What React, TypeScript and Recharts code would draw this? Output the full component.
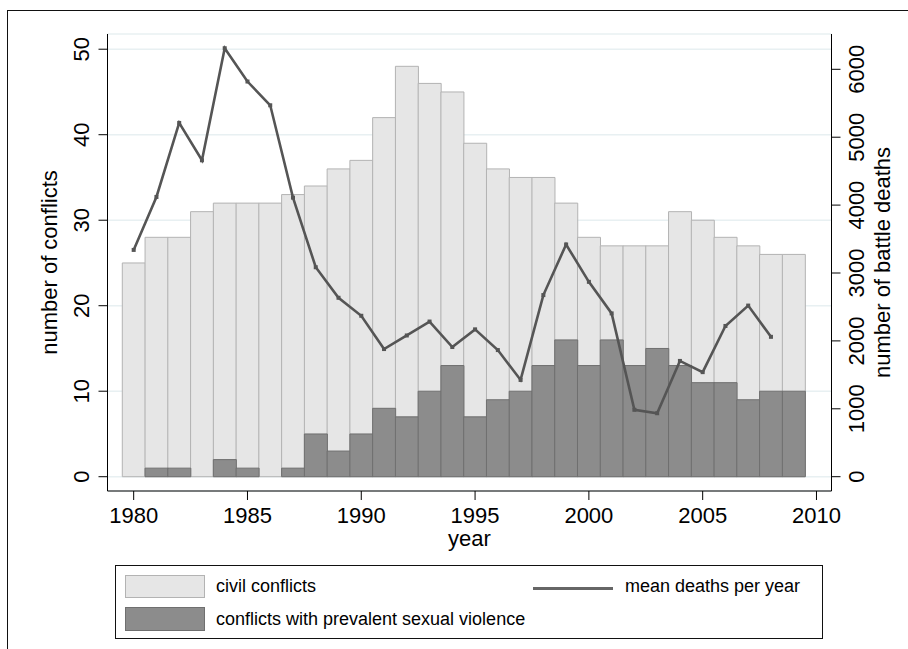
import React from "react";
import {
  ComposedChart,
  Bar,
  Line,
  XAxis,
  YAxis,
  CartesianGrid,
} from "recharts";

// values
const years = [
  1980, 1981, 1982, 1983, 1984, 1985, 1986, 1987, 1988, 1989, 1990, 1991, 1992, 1993, 1994,
  1995, 1996, 1997, 1998, 1999, 2000, 2001, 2002, 2003, 2004, 2005, 2006, 2007, 2008, 2009,
];
const civilConflicts = [
  25, 28, 28, 31, 32, 32, 32, 33, 34, 36, 37, 42, 48, 46, 45,
  39, 36, 35, 35, 32, 28, 27, 27, 27, 31, 30, 28, 27, 26, 26,
];
const sexualViolence = [
  0, 1, 1, 0, 2, 1, 0, 1, 5, 3, 5, 8, 7, 10, 13,
  7, 9, 10, 13, 16, 13, 16, 13, 15, 13, 11, 11, 9, 10, 10,
];
const meanDeaths = [
  3340, 4120, 5210, 4660, 6310, 5820, 5470, 4110, 3085, 2635, 2370, 1880, 2080, 2285, 1910,
  2170, 1865, 1425, 2675, 3420, 2870, 2405, 985, 935, 1705, 1540, 2220, 2520, 2060, null,
];

const xTicks = [1980, 1985, 1990, 1995, 2000, 2005, 2010];
const leftTicks = [0, 10, 20, 30, 40, 50];
const rightTicks = [0, 1000, 2000, 3000, 4000, 5000, 6000];

const data = years.map((year, i) => ({
  year,
  civil: civilConflicts[i],
  sexual: sexualViolence[i],
  deaths: meanDeaths[i],
}));

const FONT = "'Liberation Sans', Arial, Helvetica, sans-serif";
const LIGHT = "#e6e6e6";
const LIGHT_EDGE = "#b3b3b3";
const DARK = "#8c8c8c";
const DARK_EDGE = "#6f6f6f";
const LINE = "#555555";

const LeftTick = (props: any) => {
  const x = props.x - 7;
  return (
    <text
      x={x}
      y={props.y}
      transform={`rotate(-90 ${x} ${props.y})`}
      textAnchor="middle"
      fontSize={22}
      fontFamily={FONT}
      fill="#000"
    >
      {props.payload.value}
    </text>
  );
};

const RightTick = (props: any) => {
  const x = props.x + 21.5;
  return (
    <text
      x={x}
      y={props.y}
      transform={`rotate(-90 ${x} ${props.y})`}
      textAnchor="middle"
      fontSize={22}
      fontFamily={FONT}
      fill="#000"
    >
      {props.payload.value}
    </text>
  );
};

const SquareDot = (props: any) => {
  if (props.cx == null || props.cy == null || props.value == null) return <g key={props.index} />;
  return (
    <rect key={props.index} x={props.cx - 2} y={props.cy - 2} width={4} height={4} fill={LINE} />
  );
};

const vTitle = (text: string, dx: number, fallbackX: number) => (props: any) => {
  const vb = props.viewBox || {};
  const x = vb.x != null ? vb.x + dx : fallbackX;
  const y = vb.y != null ? vb.y + vb.height / 2 : 262.5;
  return (
    <text
      x={x}
      y={y}
      transform={`rotate(-90 ${x} ${y})`}
      textAnchor="middle"
      fontSize={22}
      fontFamily={FONT}
      fill="#000"
    >
      {text}
    </text>
  );
};

const yearTitle = (props: any) => {
  const vb = props.viewBox || {};
  const x = vb.x != null ? vb.x + vb.width / 2 : 469.5;
  const y = vb.y != null ? vb.y + 55 : 546;
  return (
    <text x={x} y={y} textAnchor="middle" fontSize={22} fontFamily={FONT} fill="#000">
      year
    </text>
  );
};

export default function App() {
  return (
    <div style={{ position: "absolute", left: 0, top: 0, width: 908, height: 649, background: "#fff", overflow: "hidden", fontFamily: FONT }}>
      <div
        style={{
          position: "absolute",
          left: 7,
          top: 10,
          width: 920,
          height: 660,
          border: "1px solid #111",
          boxSizing: "border-box",
        }}
      />
      <div style={{ position: "absolute", left: 0, top: 0 }}>
        <ComposedChart
          width={908}
          height={649}
          data={data}
          margin={{ top: 34, right: 0, bottom: 98, left: 7.5 }}
          barCategoryGap={0}
          barGap={0}
        >
          <CartesianGrid
            xAxisId="x"
            yAxisId="left"
            vertical={false}
            stroke="#e8f0f2"
            strokeWidth={1.5}
          />
          <XAxis
            xAxisId="x"
            dataKey="year"
            type="number"
            domain={[1978.85, 2010.66]}
            allowDataOverflow
            ticks={xTicks}
            interval={0}
            tickSize={9}
            tickMargin={7.5}
            height={60}
            stroke="#000"
            tick={{ fontSize: 22, fontFamily: FONT, fill: "#000" }}
            label={yearTitle}
          />
          <XAxis
            xAxisId="x2"
            dataKey="year"
            type="number"
            domain={[1978.85, 2010.66]}
            allowDataOverflow
            hide
          />
          <YAxis
            yAxisId="left"
            orientation="left"
            width={100}
            domain={[-1.672, 51.78]}
            allowDataOverflow
            ticks={leftTicks}
            interval={0}
            tickSize={9}
            stroke="#000"
            tick={<LeftTick />}
            label={vTitle("number of conflicts", 49, 56.5)}
          />
          <YAxis
            yAxisId="right"
            orientation="right"
            width={76.5}
            domain={[-210.6, 6520]}
            allowDataOverflow
            ticks={rightTicks}
            interval={0}
            tickSize={9}
            stroke="#000"
            tick={<RightTick />}
            label={vTitle("number of battle deaths", 58.5, 890)}
          />
          <Bar
            xAxisId="x"
            yAxisId="left"
            dataKey="civil"
            fill={LIGHT}
            stroke={LIGHT_EDGE}
            strokeWidth={1}
            isAnimationActive={false}
          />
          <Bar
            xAxisId="x2"
            yAxisId="left"
            dataKey="sexual"
            fill={DARK}
            stroke={DARK_EDGE}
            strokeWidth={1}
            isAnimationActive={false}
          />
          <Line
            xAxisId="x"
            yAxisId="right"
            dataKey="deaths"
            type="linear"
            stroke={LINE}
            strokeWidth={2.6}
            dot={SquareDot}
            activeDot={false}
            isAnimationActive={false}
          />
        </ComposedChart>
      </div>

      {/* legend box */}
      <div
        style={{
          position: "absolute",
          left: 115,
          top: 565,
          width: 708,
          height: 74,
          border: "1px solid #111",
          boxSizing: "border-box",
          fontSize: 18,
          color: "#000",
        }}
      >
        <div style={{ position: "absolute", left: 9, top: 9, width: 80, height: 23, background: LIGHT, border: `1px solid ${LIGHT_EDGE}`, boxSizing: "border-box" }} />
        <div style={{ position: "absolute", left: 100, top: 9, height: 23, lineHeight: "23px", whiteSpace: "nowrap" }}>civil conflicts</div>
        <div style={{ position: "absolute", left: 9, top: 41, width: 80, height: 24, background: DARK, border: `1px solid ${DARK_EDGE}`, boxSizing: "border-box" }} />
        <div style={{ position: "absolute", left: 100, top: 41, height: 24, lineHeight: "24px", whiteSpace: "nowrap" }}>conflicts with prevalent sexual violence</div>
        <div style={{ position: "absolute", left: 417, top: 20.5, width: 80, height: 3, background: "#666" }} />
        <div style={{ position: "absolute", left: 509, top: 9, height: 23, lineHeight: "23px", whiteSpace: "nowrap" }}>mean deaths per year</div>
      </div>
    </div>
  );
}
